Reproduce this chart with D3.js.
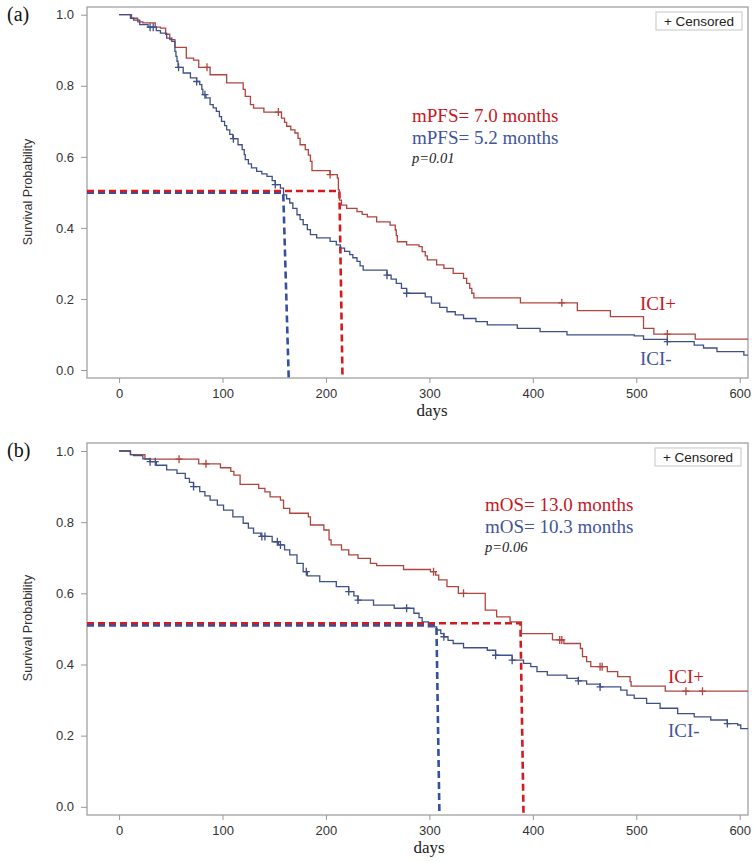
<!DOCTYPE html>
<html><head><meta charset="utf-8">
<script src="https://cdn.jsdelivr.net/npm/d3@7"></script>
<style>body{margin:0;background:#fff}svg{display:block}</style>
</head><body><svg id="c" width="755" height="862"></svg>
<script>
// ---------- data ----------
const xTicks = [0, 100, 200, 300, 400, 500, 600];
const yTicks = [0.0, 0.2, 0.4, 0.6, 0.8, 1.0];
const xDomain = [-31, 608];

// (a) PFS, ICI+  [day, survival]
const pfsPos = [[0,1.0],[12,0.99],[18,0.98],[23,0.977],[35,0.965],[40,0.962],[45,0.945],[49,0.93],[54,0.908],[65,0.878],[72,0.872],[77,0.852],[88,0.831],[104,0.808],[120,0.79],[122,0.77],[127,0.747],[130,0.737],[140,0.726],[157,0.709],[160,0.697],[162,0.686],[166,0.676],[170,0.667],[173,0.652],[175,0.634],[180,0.62],[183,0.605],[185,0.587],[186.5,0.561],[204,0.55],[211,0.54],[212,0.507],[213,0.478],[215,0.464],[220,0.455],[230,0.446],[235,0.438],[240,0.431],[249,0.417],[262,0.408],[267,0.394],[268,0.378],[269,0.361],[278,0.352],[290,0.347],[293,0.333],[296,0.321],[298,0.31],[307,0.296],[314,0.286],[323,0.272],[333,0.258],[336,0.244],[339,0.23],[341,0.216],[343,0.203],[388,0.189],[443,0.167],[475,0.15],[507,0.117],[517,0.101],[557,0.087],[608,0.087]];
// (a) PFS, ICI-
const pfsNeg = [[0,1.0],[11,0.99],[14,0.985],[20,0.972],[28,0.965],[36,0.955],[40,0.948],[46,0.934],[51,0.925],[54,0.897],[55,0.883],[56,0.869],[57,0.852],[62,0.836],[69,0.822],[75,0.812],[78,0.803],[80,0.79],[81,0.775],[84,0.766],[88,0.747],[91,0.738],[94,0.728],[97,0.713],[99,0.70],[102,0.688],[104,0.676],[107,0.663],[110,0.651],[115,0.634],[119,0.62],[121,0.606],[122,0.592],[125,0.58],[128,0.569],[133,0.559],[138,0.552],[143,0.545],[148,0.533],[151,0.522],[156,0.512],[159,0.493],[162,0.482],[165,0.47],[168,0.455],[172,0.437],[175,0.423],[178,0.409],[182,0.395],[185,0.381],[191,0.372],[204,0.362],[210,0.352],[214,0.343],[218,0.334],[223,0.325],[226,0.316],[230,0.306],[233,0.293],[236,0.281],[259,0.267],[263,0.256],[268,0.244],[273,0.23],[278,0.216],[296,0.206],[302,0.188],[310,0.176],[317,0.164],[325,0.155],[333,0.145],[345,0.136],[356,0.127],[385,0.117],[407,0.108],[433,0.099],[498,0.096],[507,0.086],[530,0.08],[556,0.07],[565,0.062],[578,0.052],[604,0.042],[608,0.042]];
const pfsPosCens = [85, 154, 204, 428, 530];
const pfsNegCens = [30, 33, 57.5, 75, 83, 110.5, 151, 259, 278, 530];
// median reference lines: [survival, day at 0.5, day at axis]
const pfsMedPos = [0.504, 213, 216];
const pfsMedNeg = [0.499, 158.7, 164];

// (b) OS, ICI+
const osPos = [[0,1.0],[11,0.99],[25,0.977],[77,0.964],[98,0.953],[108,0.943],[111,0.932],[117,0.906],[135,0.895],[141,0.885],[146,0.871],[156,0.862],[159,0.839],[165,0.825],[183,0.815],[185,0.792],[198,0.778],[203,0.75],[205,0.736],[215,0.722],[222,0.708],[231,0.698],[243,0.684],[249,0.678],[275,0.667],[301,0.661],[306,0.651],[309,0.638],[317,0.619],[328,0.60],[354,0.553],[365,0.534],[378,0.52],[389,0.487],[419,0.469],[430,0.459],[446,0.445],[448,0.422],[452,0.408],[456,0.394],[472,0.38],[482,0.366],[494,0.352],[495,0.339],[528,0.325],[608,0.325]];
// (b) OS, ICI-
const osNeg = [[0,1.0],[11,0.99],[14,0.987],[23,0.978],[30,0.97],[36,0.96],[46,0.947],[56,0.937],[64,0.923],[68,0.912],[72,0.90],[78,0.886],[83,0.874],[88,0.862],[95,0.848],[101,0.834],[110,0.815],[120,0.797],[125,0.783],[130,0.769],[137,0.76],[148,0.745],[154,0.736],[160,0.722],[165,0.708],[172,0.684],[178,0.661],[182,0.649],[194,0.633],[210,0.619],[222,0.605],[227,0.593],[231,0.581],[246,0.567],[266,0.558],[285,0.544],[290,0.532],[293,0.52],[299,0.506],[307,0.497],[311,0.487],[314,0.478],[318,0.468],[323,0.459],[333,0.447],[356,0.44],[364,0.426],[380,0.412],[391,0.403],[398,0.394],[404,0.38],[414,0.37],[433,0.361],[444,0.354],[452,0.345],[465,0.337],[485,0.328],[491,0.314],[498,0.305],[510,0.291],[523,0.277],[540,0.262],[556,0.253],[572,0.244],[588,0.234],[598,0.23],[601,0.22],[608,0.22]];
const osPosCens = [58, 84, 304, 333, 426, 428, 465, 467, 548, 564];
const osNegCens = [30, 35, 72, 138, 141, 153, 156, 181, 222, 231, 278, 314, 364, 380, 444, 465, 588];
const osMedPos = [0.516, 388, 391];
const osMedNeg = [0.51, 306.8, 309.7];

// ---------- drawing ----------
const svg = d3.select('#c');
const C = {
  curvePos: '#b0443f', curveNeg: '#3f5088',
  medPos: '#d7191f', medNeg: '#3550a2',
  txtPos: '#c8171e', txtNeg: '#42559b',
  frame: '#a8a8a8', tick: '#999', label: '#222'
};
const sans = '"Liberation Sans", Arial, sans-serif';
const serif = '"Liberation Serif", "Times New Roman", serif';

function survAt(curve, t) {
  let s = curve[0][1];
  for (const p of curve) { if (p[0] <= t) s = p[1]; else break; }
  return s;
}

function panel(o) {
  const g = svg.append('g');
  const x = d3.scaleLinear().domain(xDomain).range([87, 748]);
  const y = d3.scaleLinear().domain(o.yDomain).range([o.bottom, o.top]);

  // frame
  g.append('rect').attr('x', 87).attr('y', o.top).attr('width', 748 - 87).attr('height', o.bottom - o.top)
    .attr('fill', 'none').attr('stroke', C.frame).attr('stroke-width', 1.4);

  // axes
  const xa = g.append('g').attr('transform', `translate(0,${o.bottom})`)
    .call(d3.axisBottom(x).tickValues(xTicks).tickSize(5).tickPadding(6).tickFormat(d3.format('d')));
  const ya = g.append('g').attr('transform', 'translate(87,0)')
    .call(d3.axisLeft(y).tickValues(yTicks).tickSize(6).tickPadding(7).tickFormat(d3.format('.1f')));
  [xa, ya].forEach(a => {
    a.select('.domain').remove();
    a.selectAll('line').attr('stroke', C.tick);
    a.selectAll('text').attr('font-family', sans).attr('font-size', 13).attr('fill', '#333');
  });

  // axis titles
  g.append('text').attr('x', o.daysX).attr('y', o.bottom + 38).attr('text-anchor', 'middle')
    .attr('font-family', serif).attr('font-size', 17).attr('fill', C.label).text('days');
  g.append('text').attr('transform', `translate(32,${o.yTitleY}) rotate(-90)`).attr('text-anchor', 'middle')
    .attr('font-family', sans).attr('font-size', 12.5).attr('fill', '#333').text('Survival Probability');
  g.append('text').attr('x', 7).attr('y', o.top + 14).attr('font-family', serif).attr('font-size', 20)
    .attr('fill', '#111').text(o.tag);

  // median lines
  const medLine = (m, col) => {
    g.append('path')
      .attr('d', `M${x(xDomain[0])},${y(m[0])}H${x(m[1])}L${x(m[2])},${o.bottom}`)
      .attr('fill', 'none').attr('stroke', col).attr('stroke-width', 2.6).attr('stroke-dasharray', '7,4');
  };
  medLine(o.medNeg, C.medNeg);
  medLine(o.medPos, C.medPos);

  // curves
  const line = d3.line().x(d => x(d[0])).y(d => y(d[1])).curve(d3.curveStepAfter);
  const drawCurve = (data, cens, col) => {
    g.append('path').datum(data).attr('d', line).attr('fill', 'none').attr('stroke', col).attr('stroke-width', 1.3);
    g.selectAll(null).data(cens).enter().append('path')
      .attr('d', t => { const cx = x(t), cy = y(survAt(data, t)); return `M${cx - 3.5},${cy}H${cx + 3.5}M${cx},${cy - 4}V${cy + 4}`; })
      .attr('stroke', col).attr('stroke-width', 1.3).attr('fill', 'none');
  };
  drawCurve(o.pos, o.posCens, C.curvePos);
  drawCurve(o.neg, o.negCens, C.curveNeg);

  // legend
  g.append('rect').attr('x', o.legX).attr('y', o.legY).attr('width', 86).attr('height', 18)
    .attr('fill', '#fff').attr('stroke', '#cfcfcf').attr('stroke-width', 1.2);
  g.append('text').attr('x', o.legX + 43).attr('y', o.legY + 13.5).attr('text-anchor', 'middle')
    .attr('font-family', sans).attr('font-size', 13.5).attr('fill', '#222').text('+ Censored');

  // annotations
  const ann = g.append('g').attr('font-family', serif);
  ann.append('text').attr('x', o.annX).attr('y', o.annY).attr('font-size', 19).attr('fill', C.txtPos).text(o.txtPos);
  ann.append('text').attr('x', o.annX).attr('y', o.annY + 22).attr('font-size', 19).attr('fill', C.txtNeg).text(o.txtNeg);
  ann.append('text').attr('x', o.annX).attr('y', o.annY + 41).attr('font-size', 14.5).attr('font-style', 'italic')
    .attr('fill', '#222').text(o.pTxt);
  ann.append('text').attr('x', o.icix).attr('y', o.iciPosY).attr('font-size', 19).attr('fill', C.txtPos).text('ICI+');
  ann.append('text').attr('x', o.icix).attr('y', o.iciNegY).attr('font-size', 19).attr('fill', C.txtNeg).text('ICI-');
}

panel({
  tag: '(a)', top: 7, bottom: 378, yDomain: [-0.0225, 1.0217],
  pos: pfsPos, neg: pfsNeg, posCens: pfsPosCens, negCens: pfsNegCens,
  medPos: pfsMedPos, medNeg: pfsMedNeg,
  daysX: 432, yTitleY: 192,
  legX: 656, legY: 12,
  annX: 412, annY: 122, txtPos: 'mPFS= 7.0 months', txtNeg: 'mPFS= 5.2 months', pTxt: 'p=0.01',
  icix: 640, iciPosY: 310, iciNegY: 365
});
panel({
  tag: '(b)', top: 443, bottom: 815, yDomain: [-0.023, 1.0225],
  pos: osPos, neg: osNeg, posCens: osPosCens, negCens: osNegCens,
  medPos: osMedPos, medNeg: osMedNeg,
  daysX: 429, yTitleY: 628,
  legX: 655, legY: 448,
  annX: 485, annY: 511, txtPos: 'mOS= 13.0 months', txtNeg: 'mOS= 10.3 months', pTxt: 'p=0.06',
  icix: 668, iciPosY: 683, iciNegY: 737
});
</script>
</body></html>
